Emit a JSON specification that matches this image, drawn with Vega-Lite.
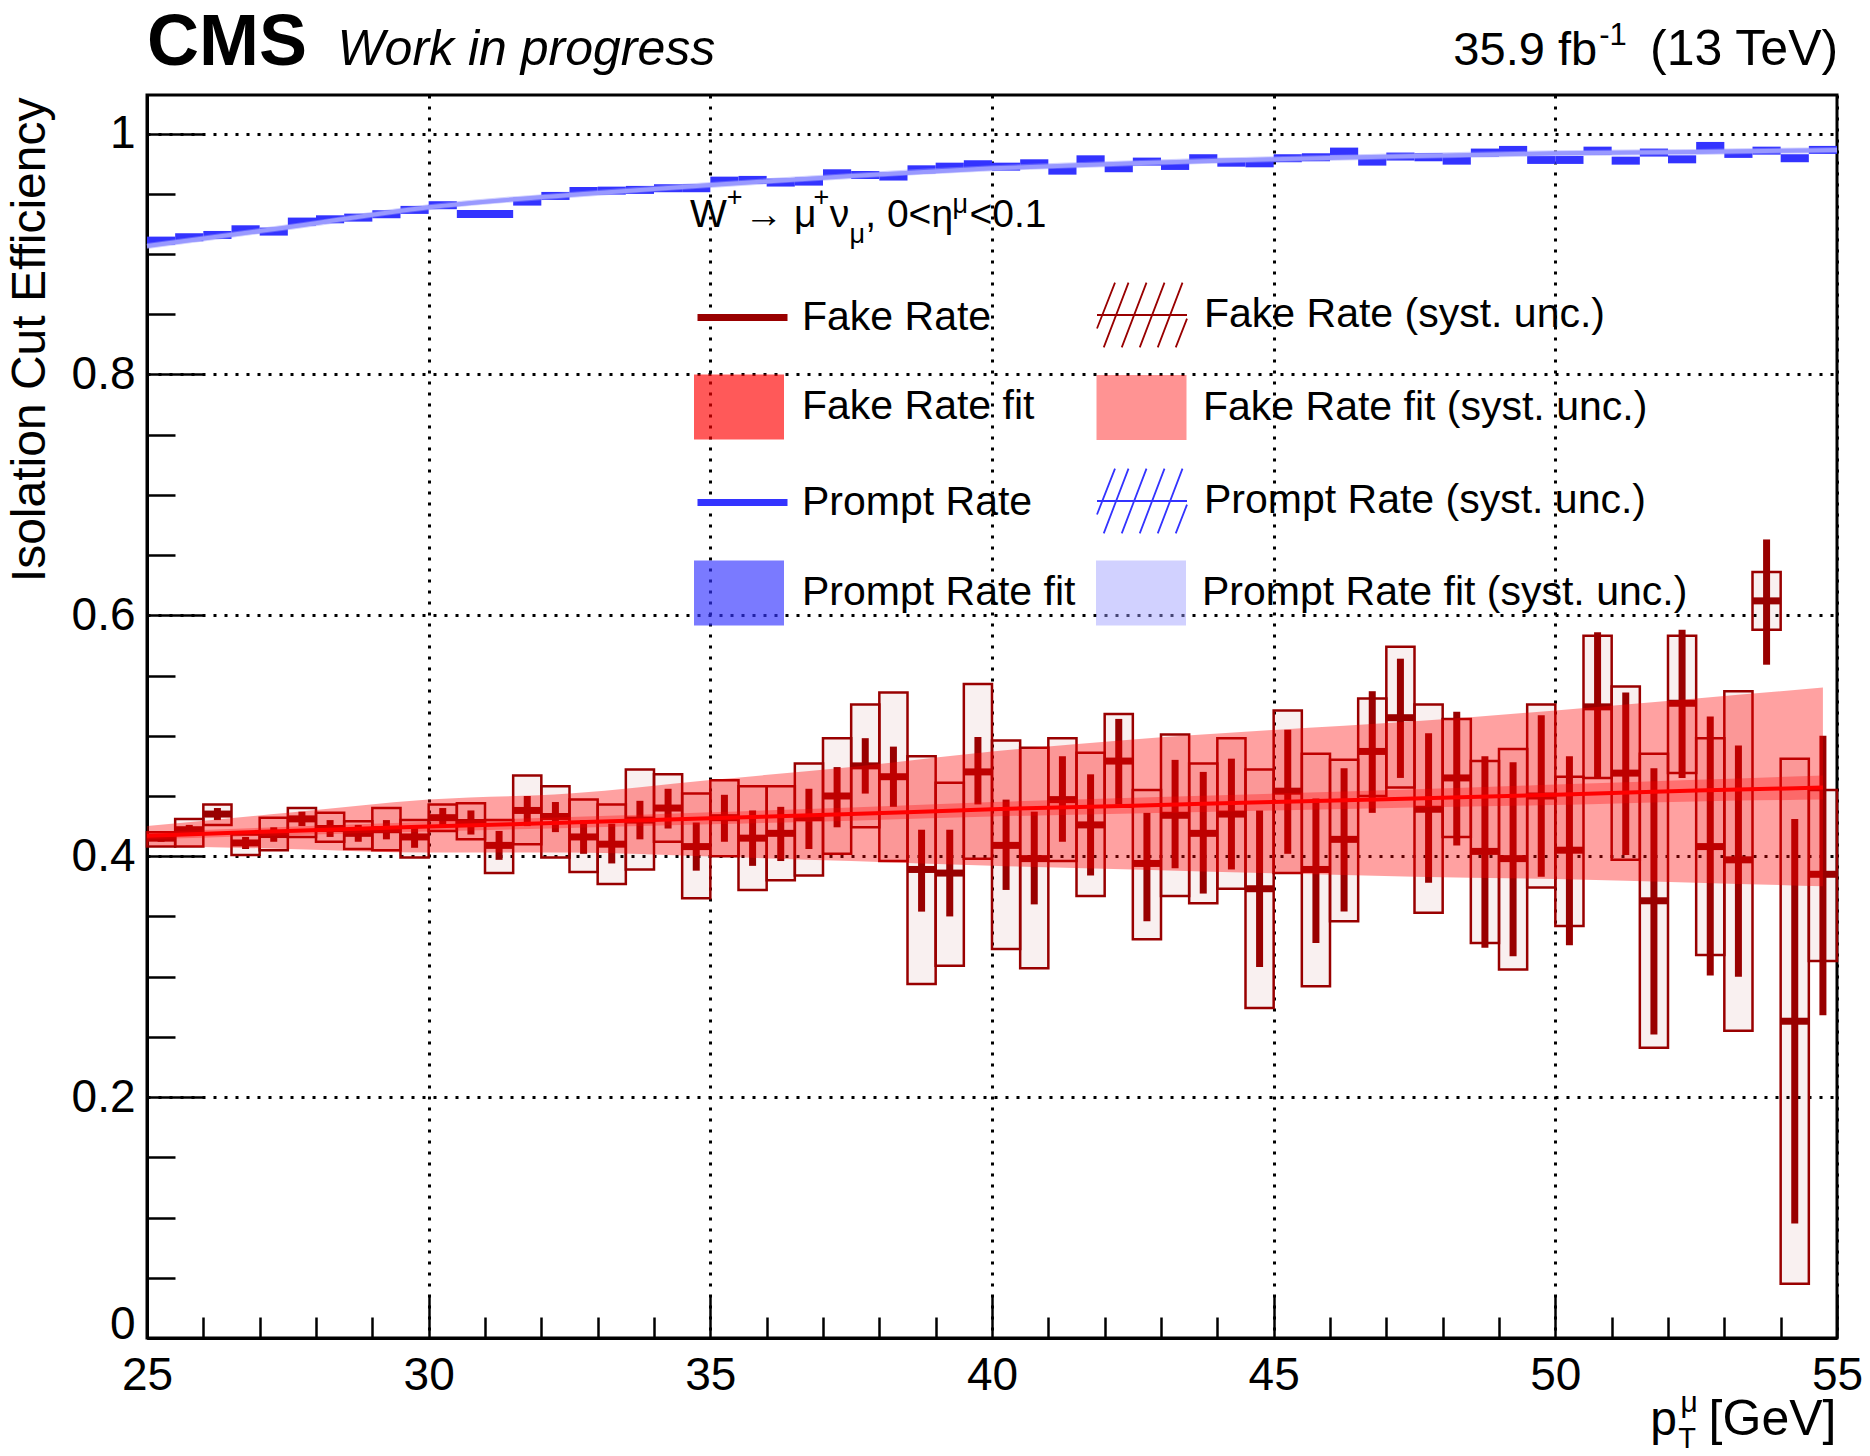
{
  "$schema": "https://vega.github.io/schema/vega-lite/v6.json",
  "width": 1690,
  "height": 1243,
  "autosize": {"type": "none"},
  "padding": {"left": 147, "top": 95, "right": 33, "bottom": 118},
  "background": "white",
  "config": {
    "view": {"stroke": "black", "strokeWidth": 3},
    "axis": {"domainColor": "black", "domainWidth": 3, "tickColor": "black", "tickWidth": 2.5, "labelColor": "black", "labelFont": "Liberation Sans", "labelFontSize": 46, "titleFont": "Liberation Sans", "titleColor": "black", "titleFontWeight": "normal", "gridColor": "black", "gridDash": [3, 8], "gridWidth": 3, "labelFlush": false, "labelOverlap": false},
    "legend": {"labelFont": "Liberation Sans", "labelFontSize": 41, "labelColor": "black", "labelLimit": 0, "labelOffset": 16, "padding": 0, "symbolSize": 8100, "titlePadding": 0}
  },
  "datasets": {
    "fake": [
      {"lo":25,"hi":25.5,"pt":25.25,"y":0.415,"slo":0.412,"shi":0.418,"ylo":0.408,"yhi":0.420},
      {"lo":25.5,"hi":26,"pt":25.75,"y":0.422,"slo":0.418,"shi":0.426,"ylo":0.408,"yhi":0.431},
      {"lo":26,"hi":26.5,"pt":26.25,"y":0.435,"slo":0.430,"shi":0.440,"ylo":0.426,"yhi":0.443},
      {"lo":26.5,"hi":27,"pt":26.75,"y":0.411,"slo":0.406,"shi":0.416,"ylo":0.401,"yhi":0.418},
      {"lo":27,"hi":27.5,"pt":27.25,"y":0.418,"slo":0.412,"shi":0.424,"ylo":0.405,"yhi":0.432},
      {"lo":27.5,"hi":28,"pt":27.75,"y":0.431,"slo":0.425,"shi":0.437,"ylo":0.416,"yhi":0.440},
      {"lo":28,"hi":28.5,"pt":28.25,"y":0.423,"slo":0.416,"shi":0.430,"ylo":0.412,"yhi":0.436},
      {"lo":28.5,"hi":29,"pt":28.75,"y":0.419,"slo":0.412,"shi":0.426,"ylo":0.406,"yhi":0.429},
      {"lo":29,"hi":29.5,"pt":29.25,"y":0.422,"slo":0.414,"shi":0.430,"ylo":0.405,"yhi":0.440},
      {"lo":29.5,"hi":30,"pt":29.75,"y":0.416,"slo":0.407,"shi":0.425,"ylo":0.399,"yhi":0.430},
      {"lo":30,"hi":30.5,"pt":30.25,"y":0.432,"slo":0.424,"shi":0.440,"ylo":0.421,"yhi":0.443},
      {"lo":30.5,"hi":31,"pt":30.75,"y":0.428,"slo":0.418,"shi":0.438,"ylo":0.414,"yhi":0.444},
      {"lo":31,"hi":31.5,"pt":31.25,"y":0.409,"slo":0.397,"shi":0.421,"ylo":0.386,"yhi":0.430},
      {"lo":31.5,"hi":32,"pt":31.75,"y":0.438,"slo":0.425,"shi":0.450,"ylo":0.410,"yhi":0.467},
      {"lo":32,"hi":32.5,"pt":32.25,"y":0.433,"slo":0.420,"shi":0.445,"ylo":0.399,"yhi":0.458},
      {"lo":32.5,"hi":33,"pt":32.75,"y":0.416,"slo":0.402,"shi":0.430,"ylo":0.387,"yhi":0.447},
      {"lo":33,"hi":33.5,"pt":33.25,"y":0.410,"slo":0.394,"shi":0.427,"ylo":0.377,"yhi":0.443},
      {"lo":33.5,"hi":34,"pt":33.75,"y":0.430,"slo":0.414,"shi":0.446,"ylo":0.389,"yhi":0.472},
      {"lo":34,"hi":34.5,"pt":34.25,"y":0.440,"slo":0.423,"shi":0.456,"ylo":0.412,"yhi":0.468},
      {"lo":34.5,"hi":35,"pt":34.75,"y":0.408,"slo":0.388,"shi":0.428,"ylo":0.365,"yhi":0.452},
      {"lo":35,"hi":35.5,"pt":35.25,"y":0.432,"slo":0.412,"shi":0.451,"ylo":0.400,"yhi":0.463},
      {"lo":35.5,"hi":36,"pt":35.75,"y":0.415,"slo":0.392,"shi":0.438,"ylo":0.372,"yhi":0.458},
      {"lo":36,"hi":36.5,"pt":36.25,"y":0.419,"slo":0.396,"shi":0.441,"ylo":0.380,"yhi":0.458},
      {"lo":36.5,"hi":37,"pt":36.75,"y":0.432,"slo":0.406,"shi":0.456,"ylo":0.384,"yhi":0.477},
      {"lo":37,"hi":37.5,"pt":37.25,"y":0.450,"slo":0.424,"shi":0.474,"ylo":0.402,"yhi":0.498},
      {"lo":37.5,"hi":38,"pt":37.75,"y":0.475,"slo":0.452,"shi":0.498,"ylo":0.424,"yhi":0.526},
      {"lo":38,"hi":38.5,"pt":38.25,"y":0.466,"slo":0.441,"shi":0.491,"ylo":0.396,"yhi":0.536},
      {"lo":38.5,"hi":39,"pt":38.75,"y":0.389,"slo":0.354,"shi":0.422,"ylo":0.294,"yhi":0.483},
      {"lo":39,"hi":39.5,"pt":39.25,"y":0.386,"slo":0.350,"shi":0.422,"ylo":0.309,"yhi":0.461},
      {"lo":39.5,"hi":40,"pt":39.75,"y":0.470,"slo":0.443,"shi":0.499,"ylo":0.398,"yhi":0.543},
      {"lo":40,"hi":40.5,"pt":40.25,"y":0.409,"slo":0.372,"shi":0.447,"ylo":0.323,"yhi":0.496},
      {"lo":40.5,"hi":41,"pt":40.75,"y":0.398,"slo":0.360,"shi":0.437,"ylo":0.307,"yhi":0.490},
      {"lo":41,"hi":41.5,"pt":41.25,"y":0.447,"slo":0.412,"shi":0.483,"ylo":0.396,"yhi":0.498},
      {"lo":41.5,"hi":42,"pt":41.75,"y":0.426,"slo":0.384,"shi":0.468,"ylo":0.367,"yhi":0.486},
      {"lo":42,"hi":42.5,"pt":42.25,"y":0.479,"slo":0.443,"shi":0.514,"ylo":0.441,"yhi":0.518},
      {"lo":42.5,"hi":43,"pt":42.75,"y":0.394,"slo":0.346,"shi":0.436,"ylo":0.331,"yhi":0.455},
      {"lo":43,"hi":43.5,"pt":43.25,"y":0.434,"slo":0.390,"shi":0.480,"ylo":0.367,"yhi":0.501},
      {"lo":43.5,"hi":44,"pt":43.75,"y":0.419,"slo":0.369,"shi":0.470,"ylo":0.361,"yhi":0.477},
      {"lo":44,"hi":44.5,"pt":44.25,"y":0.435,"slo":0.389,"shi":0.481,"ylo":0.373,"yhi":0.498},
      {"lo":44.5,"hi":45,"pt":44.75,"y":0.373,"slo":0.308,"shi":0.438,"ylo":0.274,"yhi":0.472},
      {"lo":45,"hi":45.5,"pt":45.25,"y":0.454,"slo":0.402,"shi":0.505,"ylo":0.386,"yhi":0.521},
      {"lo":45.5,"hi":46,"pt":45.75,"y":0.389,"slo":0.328,"shi":0.448,"ylo":0.292,"yhi":0.485},
      {"lo":46,"hi":46.5,"pt":46.25,"y":0.414,"slo":0.354,"shi":0.473,"ylo":0.346,"yhi":0.480},
      {"lo":46.5,"hi":47,"pt":46.75,"y":0.487,"slo":0.436,"shi":0.537,"ylo":0.450,"yhi":0.531},
      {"lo":47,"hi":47.5,"pt":47.25,"y":0.515,"slo":0.465,"shi":0.564,"ylo":0.457,"yhi":0.574},
      {"lo":47.5,"hi":48,"pt":47.75,"y":0.439,"slo":0.378,"shi":0.502,"ylo":0.353,"yhi":0.526},
      {"lo":48,"hi":48.5,"pt":48.25,"y":0.465,"slo":0.409,"shi":0.520,"ylo":0.416,"yhi":0.514},
      {"lo":48.5,"hi":49,"pt":48.75,"y":0.404,"slo":0.324,"shi":0.483,"ylo":0.328,"yhi":0.479},
      {"lo":49,"hi":49.5,"pt":49.25,"y":0.398,"slo":0.317,"shi":0.478,"ylo":0.306,"yhi":0.489},
      {"lo":49.5,"hi":50,"pt":49.75,"y":0.450,"slo":0.383,"shi":0.517,"ylo":0.374,"yhi":0.526},
      {"lo":50,"hi":50.5,"pt":50.25,"y":0.405,"slo":0.326,"shi":0.483,"ylo":0.342,"yhi":0.466},
      {"lo":50.5,"hi":51,"pt":50.75,"y":0.524,"slo":0.465,"shi":0.586,"ylo":0.465,"yhi":0.583},
      {"lo":51,"hi":51.5,"pt":51.25,"y":0.469,"slo":0.401,"shi":0.536,"ylo":0.397,"yhi":0.541},
      {"lo":51.5,"hi":52,"pt":51.75,"y":0.363,"slo":0.252,"shi":0.473,"ylo":0.241,"yhi":0.485},
      {"lo":52,"hi":52.5,"pt":52.25,"y":0.527,"slo":0.465,"shi":0.588,"ylo":0.469,"yhi":0.583},
      {"lo":52.5,"hi":53,"pt":52.75,"y":0.408,"slo":0.301,"shi":0.516,"ylo":0.318,"yhi":0.498},
      {"lo":53,"hi":53.5,"pt":53.25,"y":0.397,"slo":0.300,"shi":0.492,"ylo":0.255,"yhi":0.537},
      {"lo":53.5,"hi":54,"pt":53.75,"y":0.612,"slo":0.559,"shi":0.663,"ylo":0.588,"yhi":0.636},
      {"lo":54,"hi":54.5,"pt":54.25,"y":0.263,"slo":0.095,"shi":0.431,"ylo":0.045,"yhi":0.481},
      {"lo":54.5,"hi":55,"pt":54.75,"y":0.385,"slo":0.268,"shi":0.500,"ylo":0.313,"yhi":0.455}
    ],
    "prompt": [
      {"lo":25,"hi":25.5,"y":0.9111},{"lo":25.5,"hi":26,"y":0.9139},{"lo":26,"hi":26.5,"y":0.9158},{"lo":26.5,"hi":27,"y":0.9205},
      {"lo":27,"hi":27.5,"y":0.9186},{"lo":27.5,"hi":28,"y":0.9269},{"lo":28,"hi":28.5,"y":0.9288},{"lo":28.5,"hi":29,"y":0.9302},
      {"lo":29,"hi":29.5,"y":0.9330},{"lo":29.5,"hi":30,"y":0.9366},{"lo":30,"hi":30.5,"y":0.9405},{"lo":30.5,"hi":31,"y":0.9332},
      {"lo":31,"hi":31.5,"y":0.9332},{"lo":31.5,"hi":32,"y":0.9435},{"lo":32,"hi":32.5,"y":0.9482},{"lo":32.5,"hi":33,"y":0.9523},
      {"lo":33,"hi":33.5,"y":0.9526},{"lo":33.5,"hi":34,"y":0.9532},{"lo":34,"hi":34.5,"y":0.9546},{"lo":34.5,"hi":35,"y":0.9546},
      {"lo":35,"hi":35.5,"y":0.9609},{"lo":35.5,"hi":36,"y":0.9615},{"lo":36,"hi":36.5,"y":0.9593},{"lo":36.5,"hi":37,"y":0.9601},
      {"lo":37,"hi":37.5,"y":0.9670},{"lo":37.5,"hi":38,"y":0.9656},{"lo":38,"hi":38.5,"y":0.9643},{"lo":38.5,"hi":39,"y":0.9703},
      {"lo":39,"hi":39.5,"y":0.9725},{"lo":39.5,"hi":40,"y":0.9745},{"lo":40,"hi":40.5,"y":0.9725},{"lo":40.5,"hi":41,"y":0.9753},
      {"lo":41,"hi":41.5,"y":0.9692},{"lo":41.5,"hi":42,"y":0.9786},{"lo":42,"hi":42.5,"y":0.9712},{"lo":42.5,"hi":43,"y":0.9767},
      {"lo":43,"hi":43.5,"y":0.9731},{"lo":43.5,"hi":44,"y":0.9795},{"lo":44,"hi":44.5,"y":0.9758},{"lo":44.5,"hi":45,"y":0.9753},
      {"lo":45,"hi":45.5,"y":0.9795},{"lo":45.5,"hi":46,"y":0.9803},{"lo":46,"hi":46.5,"y":0.9850},{"lo":46.5,"hi":47,"y":0.9767},
      {"lo":47,"hi":47.5,"y":0.9809},{"lo":47.5,"hi":48,"y":0.9803},{"lo":48,"hi":48.5,"y":0.9775},{"lo":48.5,"hi":49,"y":0.9842},
      {"lo":49,"hi":49.5,"y":0.9864},{"lo":49.5,"hi":50,"y":0.9781},{"lo":50,"hi":50.5,"y":0.9781},{"lo":50.5,"hi":51,"y":0.9858},
      {"lo":51,"hi":51.5,"y":0.9775},{"lo":51.5,"hi":52,"y":0.9842},{"lo":52,"hi":52.5,"y":0.9786},{"lo":52.5,"hi":53,"y":0.9897},
      {"lo":53,"hi":53.5,"y":0.9831},{"lo":53.5,"hi":54,"y":0.9858},{"lo":54,"hi":54.5,"y":0.9795},{"lo":54.5,"hi":55,"y":0.9864}
    ],
    "fakefit": [
      {"pt":25,"y":0.417,"lo":0.409,"hi":0.425,"slo":0.414,"shi":0.420},
      {"pt":27.5,"y":0.421,"lo":0.406,"hi":0.436,"slo":0.4175,"shi":0.4245},
      {"pt":30,"y":0.4246,"lo":0.403,"hi":0.447,"slo":0.4206,"shi":0.4286},
      {"pt":32.5,"y":0.428,"lo":0.403,"hi":0.452,"slo":0.4235,"shi":0.4325},
      {"pt":35,"y":0.4315,"lo":0.3997,"hi":0.4633,"slo":0.4265,"shi":0.4365},
      {"pt":37.5,"y":0.435,"lo":0.396,"hi":0.474,"slo":0.4295,"shi":0.4405},
      {"pt":40,"y":0.439,"lo":0.392,"hi":0.487,"slo":0.433,"shi":0.445},
      {"pt":42.5,"y":0.442,"lo":0.389,"hi":0.497,"slo":0.4355,"shi":0.4485},
      {"pt":45,"y":0.445,"lo":0.3858,"hi":0.5048,"slo":0.438,"shi":0.452},
      {"pt":47.5,"y":0.448,"lo":0.383,"hi":0.512,"slo":0.4405,"shi":0.4555},
      {"pt":50,"y":0.451,"lo":0.381,"hi":0.521,"slo":0.4425,"shi":0.4595},
      {"pt":52.5,"y":0.4545,"lo":0.378,"hi":0.531,"slo":0.4455,"shi":0.4635},
      {"pt":54.75,"y":0.457,"lo":0.375,"hi":0.540,"slo":0.447,"shi":0.467}
    ],
    "promptfit": [
      {"pt":25,"y":0.9067,"lo":0.9042,"hi":0.9092,"slo":0.9052,"shi":0.9082},
      {"pt":27.5,"y":0.9222,"lo":0.9197,"hi":0.9247,"slo":0.9207,"shi":0.9237},
      {"pt":30,"y":0.9388,"lo":0.9363,"hi":0.9413,"slo":0.9373,"shi":0.9403},
      {"pt":32.5,"y":0.949,"lo":0.9465,"hi":0.9515,"slo":0.9475,"shi":0.9505},
      {"pt":35,"y":0.9573,"lo":0.9548,"hi":0.9598,"slo":0.9558,"shi":0.9588},
      {"pt":37.5,"y":0.9648,"lo":0.9623,"hi":0.9673,"slo":0.9633,"shi":0.9663},
      {"pt":40,"y":0.9711,"lo":0.9686,"hi":0.9736,"slo":0.9696,"shi":0.9726},
      {"pt":42.5,"y":0.9753,"lo":0.9728,"hi":0.9778,"slo":0.9738,"shi":0.9768},
      {"pt":45,"y":0.9786,"lo":0.9761,"hi":0.9811,"slo":0.9771,"shi":0.9801},
      {"pt":47.5,"y":0.9813,"lo":0.9788,"hi":0.9838,"slo":0.9798,"shi":0.9828},
      {"pt":50,"y":0.9836,"lo":0.9811,"hi":0.9861,"slo":0.9821,"shi":0.9851},
      {"pt":52.5,"y":0.9847,"lo":0.9822,"hi":0.9872,"slo":0.9832,"shi":0.9862},
      {"pt":55,"y":0.9864,"lo":0.9839,"hi":0.9889,"slo":0.9849,"shi":0.9879}
    ]
  },
  "layer": [
    {
      "data": {"name": "fake"},
      "mark": {"type": "rect", "filled": false, "fill": "#990000", "fillOpacity": 0.06, "strokeWidth": 2.5},
      "encoding": {
        "x": {"field": "lo", "type": "quantitative", "scale": {"domain": [25, 55], "nice": false, "zero": false},
          "axis": {"values": [25,26,27,28,29,30,31,32,33,34,35,36,37,38,39,40,41,42,43,44,45,46,47,48,49,50,51,52,53,54,55],
            "format": "d", "title": null, "grid": true, "tickSize": -42,
            "tickDash": {"condition": {"test": "datum.value % 5 === 0", "value": [42, 0]}, "value": [21, 60]},
            "gridOpacity": {"condition": {"test": "datum.value % 5 === 0", "value": 1}, "value": 0},
            "labelExpr": "datum.value % 5 === 0 ? datum.label : ''", "labelPadding": 57}},
        "x2": {"field": "hi"},
        "y": {"field": "ylo", "type": "quantitative", "scale": {"domain": [0, 1.032], "nice": false},
          "axis": {"values": [0,0.05,0.1,0.15,0.2,0.25,0.3,0.35,0.4,0.45,0.5,0.55,0.6,0.65,0.7,0.75,0.8,0.85,0.9,0.95,1.0],
            "format": ".1~f", "grid": true, "tickSize": -56,
            "tickDash": {"condition": {"test": "abs(datum.value*5 - round(datum.value*5)) < 0.001", "value": [56, 0]}, "value": [28, 60]},
            "gridOpacity": {"condition": {"test": "abs(datum.value*5 - round(datum.value*5)) < 0.001", "value": 1}, "value": 0},
            "labelExpr": "abs(datum.value*5 - round(datum.value*5)) < 0.001 ? datum.label : ''", "labelPadding": 68,
            "labelBaseline": {"condition": {"test": "datum.value === 0", "value": "alphabetic"}, "value": "middle"},
            "title": "Isolation Cut Efficiency", "titleFontSize": 48, "titleAngle": 270, "titleAlign": "right", "titleBaseline": "alphabetic", "titleX": -103, "titleY": 2}},
        "y2": {"field": "yhi"},
        "color": {"datum": "Fake Rate (syst. unc.)", "type": "nominal",
          "scale": {"domain": ["Fake Rate (syst. unc.)", "Prompt Rate (syst. unc.)"], "range": ["#990000", "#3333ff"]},
          "legend": {"orient": "none", "legendX": 949, "legendY": 174, "direction": "vertical", "title": null, "rowPadding": 104,
            "symbolType": "M-1,0.3L-0.6,-0.72M-0.85,0.72L-0.3,-0.72M-0.45,0.72L0.1,-0.72M-0.05,0.72L0.5,-0.72M0.35,0.72L0.9,-0.72M0.75,0.72L1,0.08M-1,0H1",
            "symbolStrokeWidth": 1.8, "symbolFillColor": "transparent", "symbolOpacity": 1}}
      }
    },
    {
      "data": {"name": "fake"},
      "mark": {"type": "rule", "strokeWidth": 7},
      "encoding": {"x": {"field": "pt", "type": "quantitative"}, "y": {"field": "slo", "type": "quantitative"}, "y2": {"field": "shi"},
        "stroke": {"datum": "Fake Rate", "type": "nominal",
          "scale": {"domain": ["Fake Rate", "Prompt Rate"], "range": ["#990000", "#3333ff"]},
          "legend": {"orient": "none", "legendX": 547, "legendY": 174, "direction": "vertical", "title": null, "rowPadding": 116, "labelOffset": 11,
            "symbolType": "stroke", "symbolStrokeWidth": 7, "symbolOpacity": 1}}}
    },
    {
      "data": {"name": "fake"},
      "mark": {"type": "rule", "strokeWidth": 7},
      "encoding": {"x": {"field": "lo", "type": "quantitative"}, "x2": {"field": "hi"}, "y": {"field": "y", "type": "quantitative"}, "stroke": {"datum": "Fake Rate"}}
    },
    {
      "data": {"name": "prompt"},
      "mark": {"type": "rule", "strokeWidth": 8},
      "encoding": {"x": {"field": "lo", "type": "quantitative"}, "x2": {"field": "hi"}, "y": {"field": "y", "type": "quantitative"}, "stroke": {"datum": "Prompt Rate"}}
    },
    {
      "data": {"name": "promptfit"},
      "mark": {"type": "area", "fillOpacity": 0.3, "interpolate": "monotone"},
      "encoding": {"x": {"field": "pt", "type": "quantitative"}, "y": {"field": "slo", "type": "quantitative"}, "y2": {"field": "shi"},
        "fill": {"datum": "Prompt Rate fit", "type": "nominal",
          "scale": {"domain": ["Fake Rate fit", "Prompt Rate fit"], "range": ["#ff0000", "#3333ff"]},
          "legend": {"orient": "none", "legendX": 547, "legendY": 267, "direction": "vertical", "title": null, "rowPadding": 108, "labelOffset": 18,
            "symbolType": "M-1,-0.72H1V0.72H-1Z", "symbolOpacity": 0.65, "symbolStrokeWidth": 0}}}
    },
    {
      "data": {"name": "promptfit"},
      "mark": {"type": "area", "color": "#9999ff", "interpolate": "monotone"},
      "encoding": {"x": {"field": "pt", "type": "quantitative"}, "y": {"field": "lo", "type": "quantitative"}, "y2": {"field": "hi"},
        "opacity": {"datum": 0.45, "type": "quantitative", "scale": {"domain": [0, 2], "range": [0, 2]},
          "legend": {"orient": "none", "legendX": 949, "legendY": 453, "direction": "vertical", "title": null, "values": [0.45],
            "labelExpr": "'Prompt Rate fit (syst. unc.)'", "symbolType": "M-1,-0.72H1V0.72H-1Z", "symbolFillColor": "#9999ff", "symbolStrokeColor": "#9999ff", "symbolStrokeWidth": 0}}}
    },
    {
      "data": {"name": "promptfit"},
      "mark": {"type": "line", "strokeWidth": 4, "color": "#9999ff", "interpolate": "monotone"},
      "encoding": {"x": {"field": "pt", "type": "quantitative"}, "y": {"field": "y", "type": "quantitative"}}
    },
    {
      "data": {"name": "fakefit"},
      "mark": {"type": "area", "color": "#ff0000", "fillOpacity": 0.37, "interpolate": "monotone"},
      "encoding": {"x": {"field": "pt", "type": "quantitative"}, "y": {"field": "lo", "type": "quantitative"}, "y2": {"field": "hi"},
        "strokeWidth": {"datum": 1, "type": "quantitative", "scale": {"domain": [0, 10], "range": [0, 10]},
          "legend": {"orient": "none", "legendX": 949, "legendY": 267, "direction": "vertical", "title": null, "values": [1],
            "labelExpr": "'Fake Rate fit (syst. unc.)'", "symbolType": "M-1,-0.72H1V0.72H-1Z", "symbolFillColor": "#ff0000", "symbolStrokeColor": "#ff0000", "symbolOpacity": 0.42}}}
    },
    {
      "data": {"name": "fakefit"},
      "mark": {"type": "area", "fillOpacity": 0.3, "interpolate": "monotone"},
      "encoding": {"x": {"field": "pt", "type": "quantitative"}, "y": {"field": "slo", "type": "quantitative"}, "y2": {"field": "shi"}, "fill": {"datum": "Fake Rate fit"}}
    },
    {
      "data": {"name": "fakefit"},
      "mark": {"type": "line", "strokeWidth": 4, "color": "#ff0000", "interpolate": "monotone"},
      "encoding": {"x": {"field": "pt", "type": "quantitative"}, "y": {"field": "y", "type": "quantitative"}}
    },
    {
      "data": {"values": [{"t": "CMS"}]},
      "mark": {"type": "text", "font": "Liberation Sans", "fontSize": 72, "fontWeight": "bold", "align": "left", "baseline": "alphabetic", "color": "black"},
      "encoding": {"x": {"datum": 25}, "y": {"datum": 1.057}, "text": {"field": "t"}}
    },
    {
      "data": {"values": [{"t": "Work in progress"}]},
      "mark": {"type": "text", "font": "Liberation Sans", "fontSize": 50, "fontStyle": "italic", "align": "left", "baseline": "alphabetic", "color": "black"},
      "encoding": {"x": {"datum": 28.38}, "y": {"datum": 1.057}, "text": {"field": "t"}}
    },
    {
      "data": {"values": [{"t": "35.9 fb"}]},
      "mark": {"type": "text", "font": "Liberation Sans", "fontSize": 47, "align": "left", "baseline": "alphabetic", "color": "black"},
      "encoding": {"x": {"datum": 48.19}, "y": {"datum": 1.057}, "text": {"field": "t"}}
    },
    {
      "data": {"values": [{"t": "-1"}]},
      "mark": {"type": "text", "font": "Liberation Sans", "fontSize": 31, "align": "left", "baseline": "alphabetic", "color": "black"},
      "encoding": {"x": {"datum": 50.78}, "y": {"datum": 1.0736}, "text": {"field": "t"}}
    },
    {
      "data": {"values": [{"t": "(13 TeV)"}]},
      "mark": {"type": "text", "font": "Liberation Sans", "fontSize": 50, "align": "right", "baseline": "alphabetic", "color": "black"},
      "encoding": {"x": {"datum": 55.02}, "y": {"datum": 1.057}, "text": {"field": "t"}}
    },
    {
      "data": {"values": [{"t": "W"}]},
      "mark": {"type": "text", "font": "Liberation Sans", "fontSize": 39, "align": "left", "baseline": "alphabetic", "color": "black"},
      "encoding": {"x": {"datum": 34.64}, "y": {"datum": 0.9227}, "text": {"field": "t"}}
    },
    {
      "data": {"values": [{"t": "+"}]},
      "mark": {"type": "text", "font": "Liberation Sans", "fontSize": 27, "align": "left", "baseline": "alphabetic", "color": "black"},
      "encoding": {"x": {"datum": 35.29}, "y": {"datum": 0.9395}, "text": {"field": "t"}}
    },
    {
      "data": {"values": [{"t": "\u2192 \u03bc"}]},
      "mark": {"type": "text", "font": "Liberation Sans", "fontSize": 39, "align": "left", "baseline": "alphabetic", "color": "black"},
      "encoding": {"x": {"datum": 35.6}, "y": {"datum": 0.9227}, "text": {"field": "t"}}
    },
    {
      "data": {"values": [{"t": "+"}]},
      "mark": {"type": "text", "font": "Liberation Sans", "fontSize": 27, "align": "left", "baseline": "alphabetic", "color": "black"},
      "encoding": {"x": {"datum": 36.83}, "y": {"datum": 0.9395}, "text": {"field": "t"}}
    },
    {
      "data": {"values": [{"t": "\u03bd"}]},
      "mark": {"type": "text", "font": "Liberation Sans", "fontSize": 39, "align": "left", "baseline": "alphabetic", "color": "black"},
      "encoding": {"x": {"datum": 37.12}, "y": {"datum": 0.9227}, "text": {"field": "t"}}
    },
    {
      "data": {"values": [{"t": "\u03bc"}]},
      "mark": {"type": "text", "font": "Liberation Sans", "fontSize": 27, "align": "left", "baseline": "alphabetic", "color": "black"},
      "encoding": {"x": {"datum": 37.47}, "y": {"datum": 0.9092}, "text": {"field": "t"}}
    },
    {
      "data": {"values": [{"t": ", 0<\u03b7"}]},
      "mark": {"type": "text", "font": "Liberation Sans", "fontSize": 39, "align": "left", "baseline": "alphabetic", "color": "black"},
      "encoding": {"x": {"datum": 37.75}, "y": {"datum": 0.9227}, "text": {"field": "t"}}
    },
    {
      "data": {"values": [{"t": "\u03bc"}]},
      "mark": {"type": "text", "font": "Liberation Sans", "fontSize": 27, "align": "left", "baseline": "alphabetic", "color": "black"},
      "encoding": {"x": {"datum": 39.30}, "y": {"datum": 0.9341}, "text": {"field": "t"}}
    },
    {
      "data": {"values": [{"t": "<0.1"}]},
      "mark": {"type": "text", "font": "Liberation Sans", "fontSize": 39, "align": "left", "baseline": "alphabetic", "color": "black"},
      "encoding": {"x": {"datum": 39.60}, "y": {"datum": 0.9227}, "text": {"field": "t"}}
    },
    {
      "data": {"values": [{"t": "p"}]},
      "mark": {"type": "text", "font": "Liberation Sans", "fontSize": 48, "align": "left", "baseline": "alphabetic", "color": "black"},
      "encoding": {"x": {"datum": 51.687}, "y": {"datum": -0.0805}, "text": {"field": "t"}}
    },
    {
      "data": {"values": [{"t": "\u03bc"}]},
      "mark": {"type": "text", "font": "Liberation Sans", "fontSize": 30, "align": "left", "baseline": "alphabetic", "color": "black"},
      "encoding": {"x": {"datum": 52.22}, "y": {"datum": -0.0614}, "text": {"field": "t"}}
    },
    {
      "data": {"values": [{"t": "T"}]},
      "mark": {"type": "text", "font": "Liberation Sans", "fontSize": 29, "align": "left", "baseline": "alphabetic", "color": "black"},
      "encoding": {"x": {"datum": 52.18}, "y": {"datum": -0.0915}, "text": {"field": "t"}}
    },
    {
      "data": {"values": [{"t": "[GeV]"}]},
      "mark": {"type": "text", "font": "Liberation Sans", "fontSize": 50, "align": "right", "baseline": "alphabetic", "color": "black"},
      "encoding": {"x": {"datum": 54.99}, "y": {"datum": -0.0805}, "text": {"field": "t"}}
    }
  ]
}
